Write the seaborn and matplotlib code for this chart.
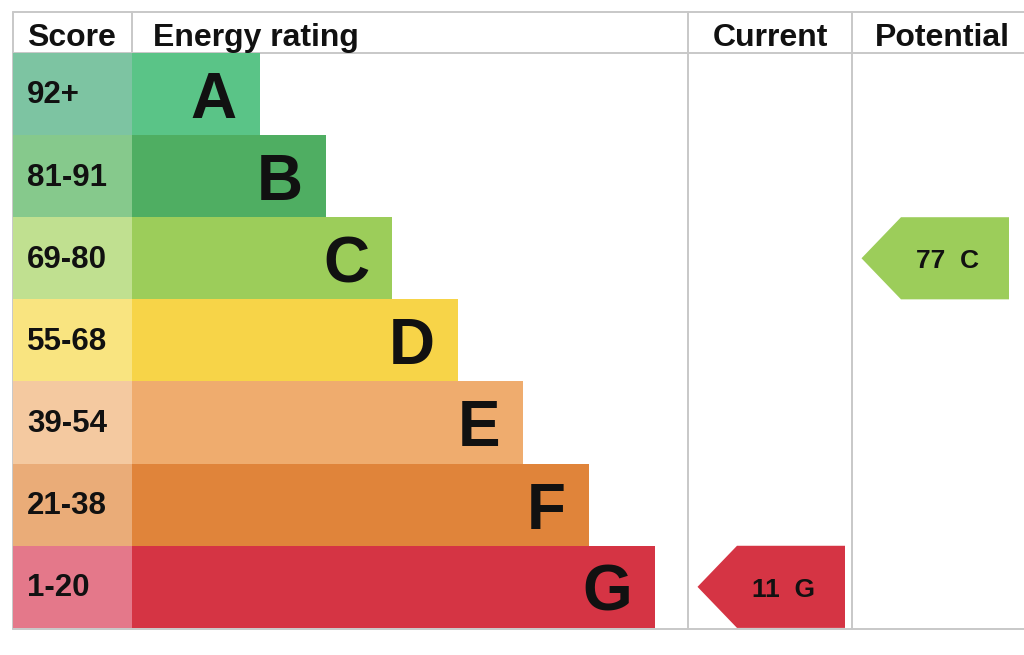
import matplotlib
matplotlib.use("Agg")
import matplotlib.pyplot as plt
from matplotlib.patches import Polygon
import seaborn as sns

# chart data
ratings = ["A", "B", "C", "D", "E", "F", "G"]
score_bands = ["92+", "81-91", "69-80", "55-68", "39-54", "21-38", "1-20"]
band_lower = [92, 81, 69, 55, 39, 21, 1]
bar_lengths = [128, 194, 260, 326, 391, 457, 523]
current_score = 11
potential_score = 77

bar_colors = ["#5ac487", "#4fae62", "#9ccd5a", "#f7d448", "#efac6e", "#e0843a", "#d53444"]
cell_colors = ["#7dc4a2", "#86c98c", "#c0e090", "#f9e480", "#f4c9a0", "#eaac78", "#e4788a"]

sns.set_style("white")
plt.rcParams["font.family"] = ["Liberation Sans", "DejaVu Sans"]

fig = plt.figure(figsize=(10.24, 6.55), dpi=100)
ax = fig.add_axes([0, 0, 1, 1])

ROW_PX = 82.14
def py(pixel):
    # pixel row -> data y (row A centred at 0)
    return (pixel - 94) / ROW_PX

SCORE_W = 119
CUR_X = 556
POT_X = 720
RIGHT = 892

# energy bars
sns.barplot(x=bar_lengths, y=ratings, hue=ratings, palette=bar_colors, orient="h",
            width=1.0, saturation=1, legend=False, linewidth=0, ax=ax, zorder=2)
# score cells
ax.barh(range(len(ratings)), [-SCORE_W] * len(ratings), height=1.0,
        color=cell_colors, linewidth=0, zorder=2)

for i, (r, s, L) in enumerate(zip(ratings, score_bands, bar_lengths)):
    ax.text(L - 23, i + 0.29, r, ha="right", va="baseline", fontsize=46,
            fontweight="bold", color="#111111", zorder=4)
    ax.text(-105, i + 0.115, s, ha="left", va="baseline", fontsize=22.5,
            fontweight="bold", color="#111111", zorder=4)

# table lines
grey = "#c8c8c8"
lw = 1.4
ax.plot([-SCORE_W, RIGHT], [py(12), py(12)], color=grey, lw=lw, zorder=1)
ax.plot([-SCORE_W, RIGHT], [py(52.5), py(52.5)], color=grey, lw=lw, zorder=1)
ax.plot([-SCORE_W, RIGHT], [py(629), py(629)], color=grey, lw=lw, zorder=1)
for xv in [-SCORE_W, 0, CUR_X, POT_X]:
    ax.plot([xv, xv], [py(12), py(629)], color=grey, lw=lw, zorder=1)

# headers
hy = py(46)
ax.text(-105, hy, "Score", ha="left", va="baseline", fontsize=23, fontweight="bold", color="#111111")
ax.text(21, hy, "Energy rating", ha="left", va="baseline", fontsize=23, fontweight="bold", color="#111111")
ax.text(CUR_X + 82, hy, "Current", ha="center", va="baseline", fontsize=23, fontweight="bold", color="#111111")
ax.text(POT_X + 90, hy, "Potential", ha="center", va="baseline", fontsize=23, fontweight="bold", color="#111111")

# arrows
def band_index(score):
    for k, lo in enumerate(band_lower):
        if score >= lo:
            return k
    return len(band_lower) - 1

for score, col_x in [(current_score, CUR_X), (potential_score, POT_X)]:
    k = band_index(score)
    tip, body, right = col_x + 9.5, col_x + 49, col_x + 157
    pts = [(tip, k), (body, k - 0.5), (right, k - 0.5), (right, k + 0.5), (body, k + 0.5)]
    ax.add_patch(Polygon(pts, closed=True, facecolor=bar_colors[k], edgecolor="none", zorder=3))
    ax.text(col_x + 95, k + 0.12, f"{score}  {ratings[k]}", ha="center", va="baseline",
            fontsize=19, fontweight="bold", color="#111111", zorder=4)

ax.set_xlim(-132, 892)
ax.set_ylim(py(655), py(0))
ax.axis("off")

fig.savefig("out.png", dpi=100)
